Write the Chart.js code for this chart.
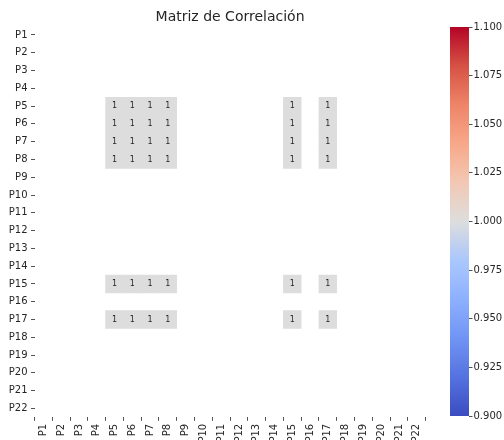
<!DOCTYPE html>
<html>
<head>
<meta charset="utf-8">
<script src="https://cdn.jsdelivr.net/npm/chart.js@4/dist/chart.umd.min.js"></script>
<style>
  html, body { margin: 0; padding: 0; background: #ffffff; }
  #wrap { position: relative; width: 504px; height: 440px; }
  #main { position: absolute; left: 0; top: 0; }
  #cbar { position: absolute; left: 440px; top: 0; }
</style>
</head>
<body>
<div id="wrap">
  <canvas id="main" width="440" height="440"></canvas>
  <canvas id="cbar" width="64" height="440"></canvas>
</div>
<script>
// ---- data ----
const labels = ['P1','P2','P3','P4','P5','P6','P7','P8','P9','P10','P11','P12','P13','P14','P15','P16','P17','P18','P19','P20','P21','P22'];
const rowsWithData = ['P5','P6','P7','P8','P15','P17'];
const colsWithData = ['P5','P6','P7','P8','P15','P17'];
const cellValues = [
  [1,1,1,1,1,1],
  [1,1,1,1,1,1],
  [1,1,1,1,1,1],
  [1,1,1,1,1,1],
  [1,1,1,1,1,1],
  [1,1,1,1,1,1]
];
const vmin = 0.9;
const vmax = 1.1;
const colorbarTicks = [0.9, 0.925, 0.95, 0.975, 1.0, 1.025, 1.05, 1.075, 1.1];
const titleText = 'Matriz de Correlación';

// coolwarm colormap stops
const cmStops = [
  [0.0, [59,76,192]],
  [0.1, [85,114,223]],
  [0.2, [112,148,244]],
  [0.3, [141,176,254]],
  [0.4, [170,199,253]],
  [0.5, [221,221,221]],
  [0.6, [242,200,180]],
  [0.7, [247,168,137]],
  [0.8, [238,132,104]],
  [0.9, [214,82,68]],
  [1.0, [180,4,38]]
];
function cmap(t) {
  t = Math.max(0, Math.min(1, t));
  for (let i = 1; i < cmStops.length; i++) {
    if (t <= cmStops[i][0]) {
      const [t0, c0] = cmStops[i-1], [t1, c1] = cmStops[i];
      const f = (t - t0) / (t1 - t0);
      const c = c0.map((v, k) => Math.round(v + (c1[k] - v) * f));
      return `rgb(${c[0]},${c[1]},${c[2]})`;
    }
  }
  return 'rgb(180,4,38)';
}
function colorFor(v) { return cmap((v - vmin) / (vmax - vmin)); }

const textColor = '#262626';
Chart.defaults.font.family = "'DejaVu Sans', sans-serif";
Chart.defaults.color = textColor;

// ---- heatmap datasets (floating bars, one dataset per row) ----
const datasets = rowsWithData.map((rowLabel, ri) => {
  const rowIdx = labels.indexOf(rowLabel);
  const vals = labels.map(col => {
    const ci = colsWithData.indexOf(col);
    return ci >= 0 ? cellValues[ri][ci] : null;
  });
  return {
    label: rowLabel,
    data: vals.map(v => v == null ? null : [rowIdx, rowIdx + 1]),
    cellVals: vals,
    backgroundColor: ctx => {
      const v = vals[ctx.dataIndex];
      return v == null ? 'rgba(0,0,0,0)' : colorFor(v);
    },
    borderWidth: 0,
    grouped: false,
    barPercentage: 1,
    categoryPercentage: 1
  };
});

const annotatePlugin = {
  id: 'annotate',
  afterDatasetsDraw(chart) {
    const ctx = chart.ctx;
    ctx.save();
    ctx.font = "8px 'DejaVu Sans', sans-serif";
    ctx.fillStyle = textColor;
    ctx.textAlign = 'center';
    ctx.textBaseline = 'middle';
    chart.data.datasets.forEach((ds, di) => {
      const meta = chart.getDatasetMeta(di);
      meta.data.forEach((el, i) => {
        const v = ds.cellVals[i];
        if (v == null) return;
        const c = el.getCenterPoint();
        ctx.fillText(String(+v.toFixed(2)), c.x, c.y);
      });
    });
    ctx.restore();
  }
};

new Chart(document.getElementById('main'), {
  type: 'bar',
  data: { labels: labels, datasets: datasets },
  plugins: [annotatePlugin],
  options: {
    responsive: false,
    animation: false,
    layout: { padding: { left: 0, right: 14.4, top: 0, bottom: 0 } },
    plugins: {
      legend: { display: false },
      tooltip: { enabled: false },
      title: {
        display: true,
        text: titleText,
        fullSize: false,
        color: textColor,
        font: { size: 14, weight: 'normal' },
        padding: { top: 8.6, bottom: 0.7 }
      }
    },
    scales: {
      x: {
        type: 'category',
        offset: true,
        grid: { display: true, drawOnChartArea: false, tickLength: 3.5, color: textColor, tickWidth: 0.8 },
        border: { display: false },
        ticks: { maxRotation: 90, minRotation: 90, autoSkip: false, padding: 3, font: { size: 10 }, color: textColor },
        afterFit: s => { s.height = 22.7; }
      },
      y: {
        type: 'linear',
        min: 0,
        max: labels.length,
        reverse: true,
        grid: { display: true, drawOnChartArea: false, tickLength: 3.5, color: textColor, tickWidth: 0.8 },
        border: { display: false },
        afterBuildTicks: s => { s.ticks = labels.map((_, i) => ({ value: i + 0.5 })); },
        ticks: {
          autoSkip: false,
          padding: 3.5,
          font: { size: 10 },
          color: textColor,
          callback: v => labels[Math.floor(v)]
        },
        afterFit: s => { s.width = 34.5; }
      }
    }
  }
});

// ---- colorbar ----
const gradStops = [];
for (let i = 0; i <= 20; i++) gradStops.push(i / 20);

new Chart(document.getElementById('cbar'), {
  type: 'bar',
  data: {
    labels: ['cb'],
    datasets: [{
      data: [[vmin, vmax]],
      backgroundColor: ctx => {
        const chart = ctx.chart;
        const area = chart.chartArea;
        if (!area) return colorFor(1.0);
        const ys = chart.scales.y;
        const g = chart.ctx.createLinearGradient(0, ys.getPixelForValue(vmin), 0, ys.getPixelForValue(vmax));
        gradStops.forEach(t => g.addColorStop(t, cmap(t)));
        return g;
      },
      borderWidth: 0,
      barPercentage: 1,
      categoryPercentage: 1
    }]
  },
  options: {
    responsive: false,
    animation: false,
    layout: { padding: { left: 10, right: 0, top: 27, bottom: 24 } },
    plugins: { legend: { display: false }, tooltip: { enabled: false }, title: { display: false } },
    scales: {
      x: { display: false },
      y: {
        type: 'linear',
        position: 'right',
        min: vmin,
        max: vmax,
        grid: { display: true, drawOnChartArea: false, tickLength: 3.5, color: textColor, tickWidth: 0.8 },
        border: { display: false },
        afterBuildTicks: s => { s.ticks = colorbarTicks.map(v => ({ value: v })); },
        ticks: { padding: 1, font: { size: 10 }, color: textColor, callback: v => Number(v).toFixed(3) },
        afterFit: s => { s.width = 35; }
      }
    }
  }
});
</script>
</body>
</html>
